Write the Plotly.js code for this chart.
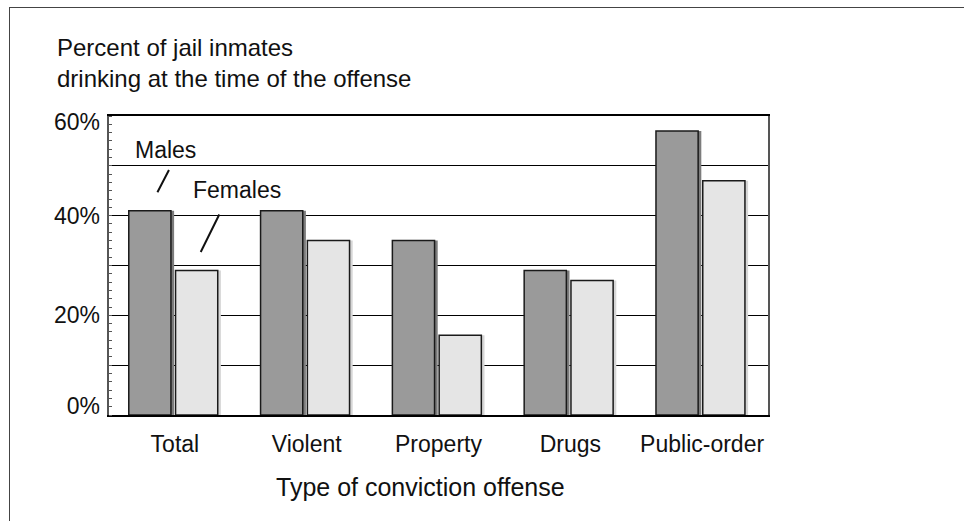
<!DOCTYPE html>
<html>
<head>
<meta charset="utf-8">
<script src="https://cdn.plot.ly/plotly-3.0.1.min.js"></script>
<style>
  html, body { margin: 0; padding: 0; background: #fff; }
  #wrap { position: relative; width: 964px; height: 521px; overflow: hidden; }
  #chart { position: absolute; left: 0; top: 0; width: 964px; height: 521px; }
  #frame { position: absolute; left: 9px; top: 7px; right: -10px; bottom: -10px;
           border-top: 1.5px solid #444; border-left: 1.5px solid #444; pointer-events: none; }
</style>
</head>
<body>
<div id="wrap">
  <div id="chart"></div>
  <div id="frame"></div>
</div>
<script>
// ---- data ----
const categories = ['Total', 'Violent', 'Property', 'Drugs', 'Public-order'];
const males   = [41, 41, 35, 29, 57];
const females = [29, 35, 16, 27, 47];
const seriesNames = ['Males', 'Females'];
const yTickValues = [0, 20, 40, 60];
const yTickLabels = ['0%', '20%', '40%', '60%'];
const gridValues  = [10, 20, 30, 40, 50];
const chartTitle  = 'Percent of jail inmates<br>drinking at the time of the offense';
const xTitle      = 'Type of conviction offense';

// ---- style ----
const FONT = '"Liberation Sans", Arial, Helvetica, sans-serif';
const maleColor = '#9a9a9a', femaleColor = '#e5e5e5';
const maleShadow = '#7c7c7c', femaleShadow = '#d6d6d6';
const barW = 0.32, maleOff = -0.35, femaleOff = 0.005, shadowShift = 0.024;

function bar(y, name, color, off, lineW) {
  return {
    type: 'bar', x: categories, y: y, name: name, yaxis: 'y2',
    width: barW, offset: off,
    marker: { color: color, line: { color: '#1a1a1a', width: lineW } },
    hoverinfo: 'skip', showlegend: false
  };
}

const traces = [
  bar(males, seriesNames[0] + ' shadow', maleShadow, maleOff + shadowShift, 0),
  bar(females, seriesNames[1] + ' shadow', femaleShadow, femaleOff + shadowShift, 0),
  bar(males, seriesNames[0], maleColor, maleOff, 1.5),
  bar(females, seriesNames[1], femaleColor, femaleOff, 1.5)
];

// end labels sit inside the frame in the original
const labelPos = yTickValues.map(v => v === 0 ? v + 1.8 : (v === 60 ? v - 1.25 : v));

const layout = {
  width: 964, height: 521,
  margin: { l: 109, r: 196, t: 116, b: 106, pad: 0 },
  paper_bgcolor: 'rgba(0,0,0,0)', plot_bgcolor: '#fff',
  barmode: 'overlay',
  font: { family: FONT, size: 23, color: '#111' },
  title: {
    text: chartTitle, font: { family: FONT, size: 24, color: '#111' },
    xref: 'container', yref: 'container', x: 57 / 964, xanchor: 'left',
    y: 1 - 56 / 521, yanchor: 'middle', automargin: false
  },
  xaxis: {
    type: 'category', range: [-0.5, 4.5], fixedrange: true,
    showline: true, linecolor: '#000', linewidth: 2, mirror: true,
    ticks: '', showgrid: false, zeroline: false,
    tickfont: { family: FONT, size: 23, color: '#111' },
    ticklabelstandoff: 7
  },
  yaxis: {
    range: [0, 60], fixedrange: true,
    tickmode: 'array', tickvals: gridValues, showticklabels: false, ticks: '',
    showgrid: true, gridcolor: '#000', gridwidth: 1.3, zeroline: false,
    showline: true, linecolor: '#555', linewidth: 2, mirror: true,
    minor: { tickmode: 'linear', tick0: 0, dtick: 10 / 6, ticks: 'inside', ticklen: 3,
             tickcolor: '#555', tickwidth: 1, showgrid: false }
  },
  yaxis2: {
    overlaying: 'y', side: 'left', range: [0, 60], fixedrange: true,
    tickmode: 'array', tickvals: labelPos, ticktext: yTickLabels,
    showgrid: false, zeroline: false, showline: false, ticks: '',
    tickfont: { family: FONT, size: 23, color: '#111' },
    ticklabelstandoff: 8
  },
  annotations: [
    { text: seriesNames[0], x: -0.07, y: 53.1, xref: 'x', yref: 'y', showarrow: false,
      font: { family: FONT, size: 23, color: '#111' } },
    { text: '', x: -0.1325, y: 44.7, xref: 'x', yref: 'y', showarrow: true,
      arrowhead: 0, arrowwidth: 2, arrowcolor: '#111', ax: 12.3, ay: -23.7, standoff: 0, startstandoff: 0 },
    { text: seriesNames[1], x: 0.473, y: 45.1, xref: 'x', yref: 'y', showarrow: false,
      font: { family: FONT, size: 23, color: '#111' } },
    { text: '', x: 0.196, y: 32.7, xref: 'x', yref: 'y', showarrow: true,
      arrowhead: 0, arrowwidth: 2, arrowcolor: '#111', ax: 19.3, ay: -39, standoff: 0, startstandoff: 0 },
    { text: xTitle, xref: 'paper', yref: 'paper', x: 0.472, y: -0.241, showarrow: false,
      xanchor: 'center', yanchor: 'middle', font: { family: FONT, size: 25, color: '#111' } }
  ]
};

Plotly.newPlot('chart', traces, layout, { displayModeBar: false, staticPlot: true });
</script>
</body>
</html>
